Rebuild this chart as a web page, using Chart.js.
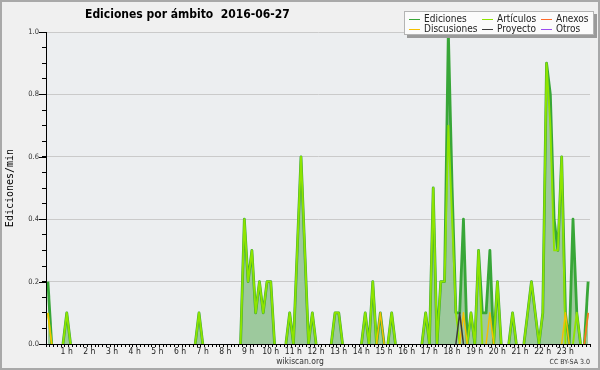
<!DOCTYPE html>
<html>
<head>
<meta charset="utf-8">
<script src="https://cdn.jsdelivr.net/npm/chart.js@4.4.1/dist/chart.umd.min.js"></script>
<style>
html, body { margin: 0; padding: 0; background: #f0f0f0; }
#caja { position: relative; width: 600px; height: 370px; }
#marco { position: absolute; left: 0; top: 0; width: 600px; height: 370px; box-sizing: border-box; border: 2px solid #a9a9a9; pointer-events: none; }
</style>
</head>
<body>
<div id="caja"><canvas id="Graf" width="600" height="370"></canvas><div id="marco"></div></div>
<script>
// ediciones por minuto, tramos de 10 minutos (6 por hora, 4 horas por linea)
var titulo = "Ediciones por ámbito  2016-06-27";
var nombres = ["Ediciones", "Artículos", "Anexos", "Discusiones", "Proyecto", "Otros"];
var colores = ["#38a638", "#8ee400", "#ff6a2a", "#f5c000", "#3a3a3a", "#9a4cf0"];
var horas = ["1 h", "2 h", "3 h", "4 h", "5 h", "6 h", "7 h", "8 h", "9 h", "10 h", "11 h", "12 h",
             "13 h", "14 h", "15 h", "16 h", "17 h", "18 h", "19 h", "20 h", "21 h", "22 h", "23 h"];
var etiquetasY = ["0.0", "0.2", "0.4", "0.6", "0.8", "1.0"];

var ediciones = [
    .2,0,0,0,0,.1,  0,0,0,0,0,0,  0,0,0,0,0,0,  0,0,0,0,0,0,
    0,0,0,0,0,0,  0,0,0,0,0,0,  0,0,0,0,.1,0,  0,0,0,0,0,0,
    0,0,0,0,.4,.2,  .3,.1,.2,.1,.2,.2,  0,0,0,0,.1,0,  .3,.6,.3,0,.1,0,
    0,0,0,0,.1,.1,  0,0,0,0,0,0,  .1,0,.2,0,.1,0,  0,.1,0,0,0,0,
    0,0,0,0,.1,0,  .5,0,.2,.2,1,.5,  .1,.1,.4,0,.1,0,  .3,.1,.1,.3,0,.2,
    0,0,0,.1,0,0,  0,.1,.2,.1,0,.1,  .9,.8,.4,.3,.6,.1,  0,.4,.1,0,0,.2
];
var articulos = [
    .1,0,0,0,0,.1,  0,0,0,0,0,0,  0,0,0,0,0,0,  0,0,0,0,0,0,
    0,0,0,0,0,0,  0,0,0,0,0,0,  0,0,0,0,.1,0,  0,0,0,0,0,0,
    0,0,0,0,.4,.2,  .3,.1,.2,.1,.2,.2,  0,0,0,0,.1,0,  .3,.6,.3,0,.1,0,
    0,0,0,0,.1,.1,  0,0,0,0,0,0,  .1,0,.2,0,0,0,  0,.1,0,0,0,0,
    0,0,0,0,.1,0,  .5,0,.2,.2,.7,.4,  .1,0,0,0,.1,0,  .3,0,0,0,0,.2,
    0,0,0,.1,0,0,  0,.1,.2,.1,0,.1,  .9,.7,.3,.3,.6,0,  0,0,.1,0,0,.1
];
var anexos = [
    0,0,0,0,0,0,  0,0,0,0,0,0,  0,0,0,0,0,0,  0,0,0,0,0,0,
    0,0,0,0,0,0,  0,0,0,0,0,0,  0,0,0,0,0,0,  0,0,0,0,0,0,
    0,0,0,0,0,0,  0,0,0,0,0,0,  0,0,0,0,0,0,  0,0,0,0,0,0,
    0,0,0,0,0,0,  0,0,0,0,0,0,  0,0,0,0,0,0,  0,0,0,0,0,0,
    0,0,0,0,0,0,  0,0,0,0,0,0,  0,0,0,0,0,0,  0,0,0,0,0,0,
    0,0,0,0,0,0,  0,0,0,0,0,0,  0,0,0,0,0,0,  0,0,0,0,0,.1
];
var discusiones = [
    .1,0,0,0,0,0,  0,0,0,0,0,0,  0,0,0,0,0,0,  0,0,0,0,0,0,
    0,0,0,0,0,0,  0,0,0,0,0,0,  0,0,0,0,0,0,  0,0,0,0,0,0,
    0,0,0,0,0,0,  0,0,0,0,0,0,  0,0,0,0,0,0,  0,0,0,0,0,0,
    0,0,0,0,0,0,  0,0,0,0,0,0,  0,0,0,0,.1,0,  0,0,0,0,0,0,
    0,0,0,0,0,0,  0,0,0,0,0,0,  0,0,.1,0,0,0,  0,0,0,.1,0,0,
    0,0,0,0,0,0,  0,0,0,0,0,0,  0,0,0,0,0,.1,  0,0,0,0,0,0
];
var proyecto = [
    0,0,0,0,0,0,  0,0,0,0,0,0,  0,0,0,0,0,0,  0,0,0,0,0,0,
    0,0,0,0,0,0,  0,0,0,0,0,0,  0,0,0,0,0,0,  0,0,0,0,0,0,
    0,0,0,0,0,0,  0,0,0,0,0,0,  0,0,0,0,0,0,  0,0,0,0,0,0,
    0,0,0,0,0,0,  0,0,0,0,0,0,  0,0,0,0,0,0,  0,0,0,0,0,0,
    0,0,0,0,0,0,  0,0,0,0,0,0,  0,.1,0,0,0,0,  0,0,0,0,0,0,
    0,0,0,0,0,0,  0,0,0,0,0,0,  0,0,0,0,0,0,  0,0,0,0,0,0
];
var otros = [
    0,0,0,0,0,0,  0,0,0,0,0,0,  0,0,0,0,0,0,  0,0,0,0,0,0,
    0,0,0,0,0,0,  0,0,0,0,0,0,  0,0,0,0,0,0,  0,0,0,0,0,0,
    0,0,0,0,0,0,  0,0,0,0,0,0,  0,0,0,0,0,0,  0,0,0,0,0,0,
    0,0,0,0,0,0,  0,0,0,0,0,0,  0,0,0,0,0,0,  0,0,0,0,0,0,
    0,0,0,0,0,0,  0,0,0,0,0,0,  0,0,0,0,0,0,  0,0,0,0,0,0,
    0,0,0,0,0,0,  0,0,0,0,0,0,  0,0,0,0,0,0,  0,0,0,0,0,0
];

var series = [ediciones, articulos, anexos, discusiones, proyecto, otros];
var orden = [6, 5, 2, 3, 1, 4];
var fuente = '"DejaVu Sans Condensed", "DejaVu Sans", sans-serif';

function esMayor(v) {
    return Math.abs(v / 0.2 - Math.round(v / 0.2)) < 1e-6;
}

// cada valor en el centro de su tramo de 10 minutos
function puntos(lista) {
    return lista.map(function (v, i) { return { x: i + 0.5, y: v }; });
}

var fondo = {
    id: 'fondo',
    beforeDraw: function (chart) {
        var a = chart.chartArea, ctx = chart.ctx;
        ctx.save();
        ctx.fillStyle = '#f0f0f0';
        ctx.fillRect(0, 0, chart.width, chart.height);
        ctx.fillStyle = '#eceef0';
        ctx.fillRect(a.left, a.top, a.right - a.left, a.bottom - a.top);
        ctx.restore();
    }
};

var marcasLargas = {
    id: 'marcasLargas',
    afterDraw: function (chart) {
        var y = chart.scales.y, ctx = chart.ctx;
        ctx.save();
        ctx.strokeStyle = '#000';
        ctx.lineWidth = 1;
        y.ticks.forEach(function (t) {
            if (!esMayor(t.value)) return;
            var py = Math.round(y.getPixelForValue(t.value)) + 0.5;
            ctx.beginPath();
            ctx.moveTo(y.right - 7, py);
            ctx.lineTo(y.right, py);
            ctx.stroke();
        });
        ctx.restore();
    }
};

var textos = {
    id: 'textos',
    afterDraw: function (chart) {
        var ctx = chart.ctx;
        ctx.save();
        ctx.fillStyle = '#000';
        ctx.textBaseline = 'alphabetic';
        ctx.textAlign = 'left';
        ctx.font = 'bold 12px ' + fuente;
        ctx.fillText(titulo, 85, 18);

        ctx.fillStyle = '#333';
        ctx.textAlign = 'center';
        ctx.font = '8.5px ' + fuente;
        ctx.fillText('wikiscan.org', 300, 364);
        ctx.textAlign = 'right';
        ctx.font = '7px ' + fuente;
        ctx.fillText('CC BY-SA 3.0', 590, 364);

        // leyenda
        var x0 = 404, y0 = 11, w = 190, h = 24;
        ctx.fillStyle = '#9a9a9a';
        ctx.fillRect(x0 + 3, y0 + 3, w, h);
        ctx.fillStyle = '#fbfbfb';
        ctx.fillRect(x0, y0, w, h);
        ctx.strokeStyle = '#b4b4b4';
        ctx.lineWidth = 1;
        ctx.strokeRect(x0 + 0.5, y0 + 0.5, w - 1, h - 1);
        var colX = [424, 497, 556];
        var filaY = [19, 29];
        ctx.font = '10px ' + fuente;
        ctx.textAlign = 'left';
        ctx.textBaseline = 'middle';
        chart.data.datasets.forEach(function (ds, k) {
            var tx = colX[k % 3], ty = filaY[Math.floor(k / 3)];
            ctx.strokeStyle = ds.borderColor;
            ctx.beginPath();
            ctx.moveTo(tx - 15, ty + 0.5);
            ctx.lineTo(tx - 4, ty + 0.5);
            ctx.stroke();
            ctx.fillStyle = '#222';
            ctx.fillText(ds.label, tx, ty + 0.5);
        });
        ctx.restore();
    }
};

new Chart("Graf", {
    type: "line",
    data: {
        datasets: series.map(function (lista, k) {
            return {
                label: nombres[k],
                data: puntos(lista),
                borderColor: colores[k],
                backgroundColor: '#9dc99d',
                borderWidth: k === 0 ? 2.8 : (k === 1 ? 1.9 : 1.5),
                borderJoinStyle: 'round',
                fill: k === 0 ? 'origin' : false,
                pointRadius: 0,
                pointHoverRadius: 0,
                tension: 0,
                order: orden[k],
                segment: {
                    borderColor: function (c) {
                        return (c.p0.parsed.y === 0 && c.p1.parsed.y === 0) ? 'transparent' : undefined;
                    }
                }
            };
        })
    },
    options: {
        responsive: false,
        animation: false,
        events: [],
        layout: { padding: { top: 32, right: 10, left: 0, bottom: 0 } },
        plugins: {
            legend: { display: false },
            tooltip: { enabled: false }
        },
        scales: {
            x: {
                type: 'linear',
                min: 0,
                max: 144,
                afterFit: function (s) { s.height = 26; },
                border: { color: '#000', width: 1, z: 1 },
                grid: { drawOnChartArea: false, tickLength: 3, tickColor: '#000' },
                ticks: {
                    stepSize: 1,
                    autoSkip: false,
                    maxRotation: 0,
                    minRotation: 0,
                    padding: 0,
                    labelOffset: -2,
                    color: '#222',
                    font: { family: fuente, size: 8.5 },
                    callback: function (v) {
                        return (v % 6 === 0 && v > 0 && v < 144) ? horas[v / 6 - 1] : '';
                    }
                }
            },
            y: {
                min: 0,
                max: 1,
                afterFit: function (s) { s.width = 46; },
                border: { color: '#000', width: 1, z: 1 },
                grid: {
                    tickLength: 4,
                    tickColor: '#000',
                    color: function (c) {
                        return (c.tick && c.tick.value > 0 && esMayor(c.tick.value)) ? '#cacaca' : 'transparent';
                    }
                },
                ticks: {
                    stepSize: 0.05,
                    padding: 3,
                    color: '#333',
                    font: { family: fuente, size: 7.5 },
                    callback: function (v) {
                        return esMayor(v) ? etiquetasY[Math.round(v / 0.2)] : '';
                    }
                },
                title: {
                    display: true,
                    text: 'Ediciones/min',
                    color: '#000',
                    font: { family: '"DejaVu Sans Mono", monospace', size: 10 }
                }
            }
        }
    },
    plugins: [fondo, marcasLargas, textos]
});
</script>
</body>
</html>
